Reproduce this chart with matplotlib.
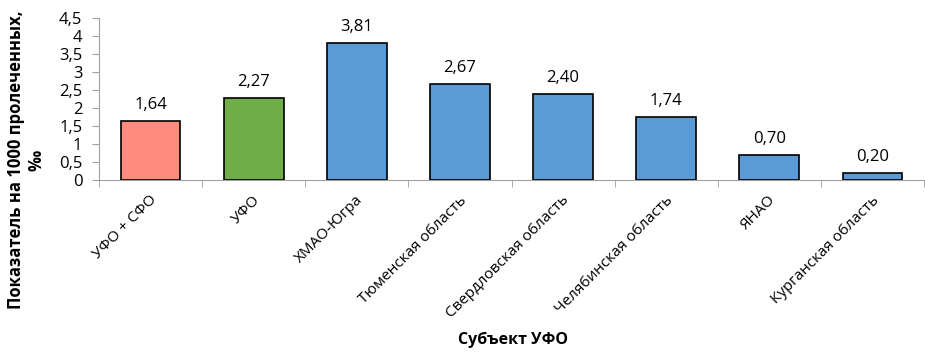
import matplotlib
matplotlib.use("Agg")
import matplotlib.pyplot as plt
import numpy as np

categories = ["УФО + СФО", "УФО", "ХМАО-Югра", "Тюменская область",
              "Свердловская область", "Челябинская область", "ЯНАО",
              "Курганская область"]
values = [1.64, 2.27, 3.81, 2.67, 2.40, 1.74, 0.70, 0.20]
bar_colors = ["#FF8A7E", "#70AD47", "#5B9BD5", "#5B9BD5", "#5B9BD5",
              "#5B9BD5", "#5B9BD5", "#5B9BD5"]
y_ticks = [0, 0.5, 1, 1.5, 2, 2.5, 3, 3.5, 4, 4.5]

plt.rcParams['font.family'] = ['Open Sans', 'DejaVu Sans']

fig = plt.figure(figsize=(9.25, 3.52), dpi=100)
W, H = 925, 352
ax = fig.add_axes([99 / W, 1 - 180 / H, (924 - 99) / W, (180 - 18) / H])

x = np.arange(len(categories))
ax.bar(x, values, width=0.58, color=bar_colors, edgecolor="black", linewidth=1.2, zorder=3)

for xi, v in zip(x, values):
    ax.text(xi, v + 0.22, f"{v:.2f}".replace(".", ","), ha="center", va="bottom",
            fontsize=12, color="black")

ax.set_xlim(-0.5, len(categories) - 0.5)
ax.set_ylim(0, 4.5)
ax.set_yticks(y_ticks)
ax.set_yticklabels([f"{t:g}".replace(".", ",") for t in y_ticks], fontsize=12)

ax.set_xticks(x + 0.04)
ax.set_xticklabels(categories, rotation=45, ha="right", va="center",
                   rotation_mode="anchor", fontsize=11)
ax.tick_params(axis="x", length=0, pad=13)
ax.set_xticks(np.arange(-0.5, len(categories), 1), minor=True)
ax.tick_params(axis="x", which="minor", length=5, color="#A0A0A0")
ax.tick_params(axis="y", length=5, color="#A0A0A0", pad=7)

for side in ["top", "right"]:
    ax.spines[side].set_visible(False)
ax.spines["left"].set_color("#A0A0A0")
ax.spines["bottom"].set_color("#A0A0A0")

fig.text(513 / W, 1 - 340 / H, "Субъект УФО", ha="center", va="center",
         fontsize=11.5, fontweight="bold")
fig.text(26 / W, 1 - 160 / H, "Показатель на 1000 пролеченных,\n‰", ha="center",
         va="center", rotation=90, fontsize=12, fontweight="bold", linespacing=1.15)

fig.savefig("out.png", dpi=100)
